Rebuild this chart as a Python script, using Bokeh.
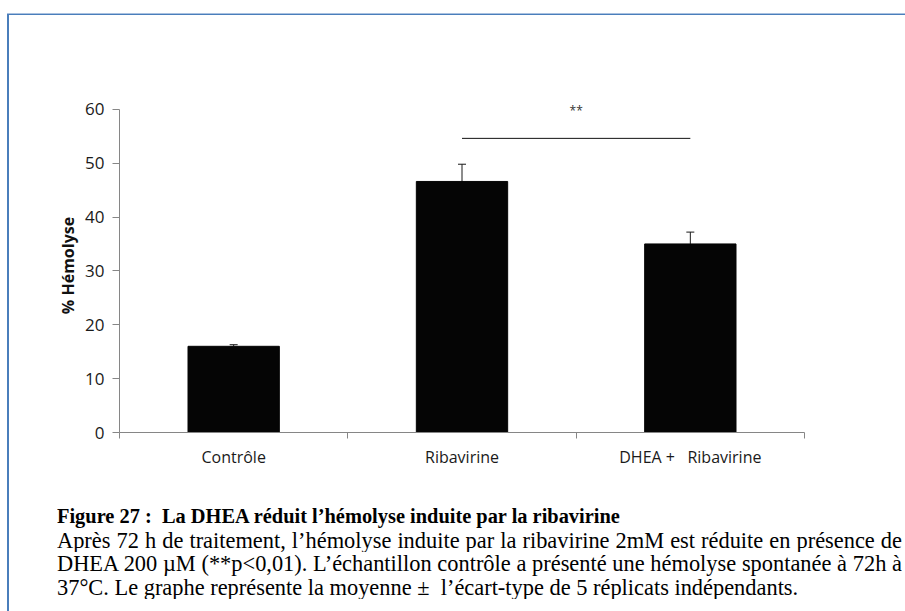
from bokeh.plotting import figure
from bokeh.models import Range1d, FixedTicker, Whisker, TeeHead, ColumnDataSource, Div
from bokeh.layouts import column, row
from bokeh.core.properties import value
from bokeh.embed import file_html
from bokeh.resources import INLINE

# ---- data ----
categories = ["Contrôle", "Ribavirine", "DHEA +\u00a0\u00a0 Ribavirine"]
means = [16.0, 46.6, 35.0]
sds = [0.3, 3.2, 2.2]
y_ticks = [0, 10, 20, 30, 40, 50, 60]
sig_pair = [1, 2]
sig_line_y = 54.6
sig_text = "**"
sig_text_y = 59.8

caption_title = "Figure 27 :\u00a0 La DHEA réduit l’hémolyse induite par la ribavirine"
caption_lines = [
    "Après 72 h de traitement, l’hémolyse induite par la ribavirine 2mM est réduite en présence de",
    "DHEA 200 µM (**p&lt;0,01). L’échantillon contrôle a présenté une hémolyse spontanée à 72h à",
    "37°C. Le graphe représente la moyenne ±&nbsp; l’écart-type de 5 réplicats indépendants.",
]

xs = [i + 0.5 for i in range(len(categories))]
upper = [m + s for m, s in zip(means, sds)]
src = ColumnDataSource(dict(x=xs, top=means, upper=upper))

AXIS = "#868686"
FONT = "Open Sans"
BLUE = "#4a7ebb"

p = figure(width=878, height=460, x_range=Range1d(0, len(categories)),
           y_range=Range1d(0, 62), output_backend="svg", toolbar_location=None,
           min_border_left=110, min_border_right=83, min_border_top=83,
           min_border_bottom=43)
p.outline_line_color = None
p.grid.visible = False
p.background_fill_color = "white"
p.border_fill_color = "white"

p.vbar(x="x", top="top", bottom=0, width=0.4, source=src,
       fill_color="#050505", line_color="#050505")

w = Whisker(source=src, base="x", lower="top", upper="upper",
            lower_head=None, upper_head=TeeHead(size=8, line_color="#1a1a1a", line_width=1),
            line_color="#1a1a1a", line_width=1)
p.add_layout(w)

x0 = xs[sig_pair[0]]
x1 = xs[sig_pair[1]]
p.segment(x0=[x0], x1=[x1], y0=[sig_line_y], y1=[sig_line_y], line_color="#111111", line_width=1)
p.text(x=[(x0 + x1) / 2], y=[sig_text_y], text=[sig_text], text_align="center",
       text_baseline="middle", text_font_size="12px", text_font=value(FONT), text_color="#333333")

# x axis
xa = p.xaxis[0]
xa.ticker = FixedTicker(ticks=xs, minor_ticks=list(range(len(categories) + 1)))
xa.major_label_overrides = {x: c for x, c in zip(xs, categories)}
xa.major_tick_line_color = None
xa.major_tick_out = 0
xa.major_tick_in = 0
xa.minor_tick_out = 6
xa.minor_tick_in = 0
xa.minor_tick_line_color = AXIS
xa.axis_line_color = AXIS
xa.major_label_standoff = 7
xa.major_label_text_font = FONT
xa.major_label_text_font_size = "16px"
xa.major_label_text_color = "#1a1a1a"

# y axis
ya = p.yaxis[0]
ya.ticker = FixedTicker(ticks=y_ticks, minor_ticks=[])
ya.bounds = (0, 60)
ya.major_tick_out = 7
ya.major_tick_in = 0
ya.major_tick_line_color = AXIS
ya.axis_line_color = AXIS
ya.minor_tick_line_color = None
ya.major_label_standoff = 8
ya.major_label_text_font = FONT
ya.major_label_text_font_size = "17px"
ya.major_label_text_color = "#1a1a1a"
ya.axis_label = "% Hémolyse"
ya.axis_label_text_font = FONT
ya.axis_label_text_font_style = "bold"
ya.axis_label_text_font_size = "16px"
ya.axis_label_text_color = "#111111"
ya.axis_label_standoff = 3

line_style = "height:23.5px; line-height:23.5px; overflow:hidden;"
caption_html = (
    "<div style=\"font-family:'Liberation Serif'; color:#000; padding-top:30px; padding-left:48px;\">"
    f"<div style=\"{line_style} font-size:20.4px; font-weight:bold; white-space:nowrap;\">{caption_title}</div>"
    f"<div style=\"{line_style} font-size:22.4px; width:845px; text-align:justify; text-align-last:justify;\">{caption_lines[0]}</div>"
    f"<div style=\"{line_style} font-size:22.4px; width:845px; text-align:justify; text-align-last:justify;\">{caption_lines[1]}</div>"
    f"<div style=\"{line_style} font-size:22.4px; white-space:nowrap;\">{caption_lines[2]}</div>"
    "</div>"
)
cap = Div(text=caption_html, width=878, height=130, margin=0)

top_line = Div(text="", width=898, height=2, margin=0,
               styles={"background-color": BLUE, "border-top": "1px solid #a9c1e0",
                       "box-sizing": "border-box"})
left_line = Div(text="", width=2, height=596, margin=0, styles={"background-color": BLUE})

layout = column(top_line, row(left_line, column(p, cap, spacing=0), spacing=0), spacing=0,
                styles={"margin-top": "13px", "margin-left": "7px"})

open("out.html", "w").write(file_html(layout, INLINE))
